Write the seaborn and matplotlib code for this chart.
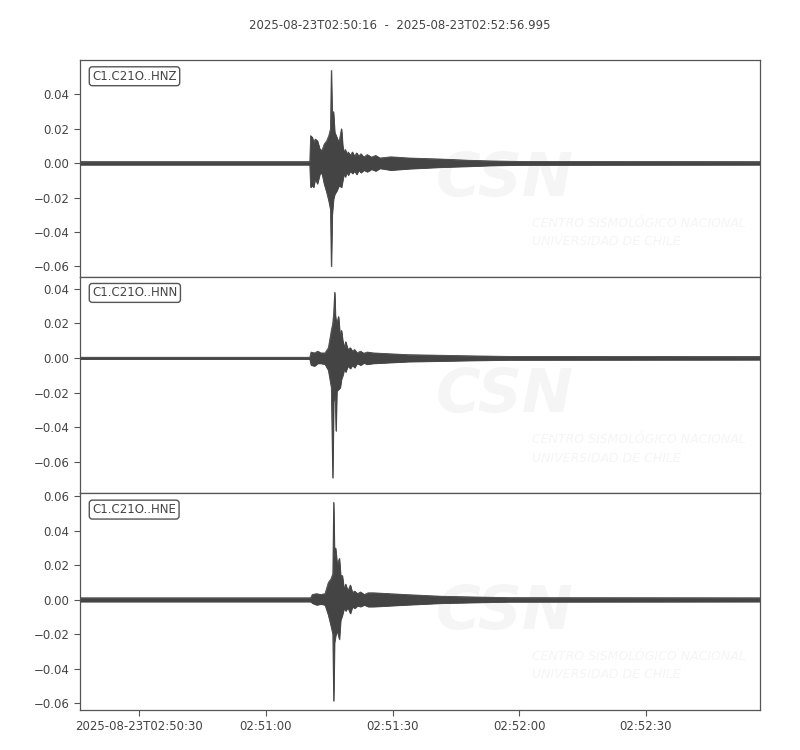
import numpy as np
import pandas as pd
import matplotlib
matplotlib.use("Agg")
import matplotlib.pyplot as plt
import matplotlib.dates as mdates
import seaborn as sns

# ============================================================
# DATA - envelope knots (seconds after start, m/s^2)
# ============================================================
START = pd.Timestamp("2025-08-23 02:50:16")
DURATION = 160.995
channels = ["C1.C21O..HNZ", "C1.C21O..HNN", "C1.C21O..HNE"]

hnz_t = [0, 54.4, 54.6, 55.0, 55.3, 55.7, 56.2, 56.8, 57.3, 57.8, 58.4, 58.9, 59.3,
         59.5, 59.7, 60.0, 60.3, 60.8, 61.3, 61.9, 62.2, 62.5, 62.8, 63.2, 63.5, 64.0,
         64.5, 65.0, 65.5, 66.0, 66.5, 67.2, 68.0, 69.0, 70.0, 71.0, 73.6, 78.0, 85.5,
         92.0, 97.4, 104.5, 161.0]
hnz_up = [0.0009, 0.0009, 0.016, 0.015, 0.012, 0.014, 0.013, 0.008, 0.0075, 0.011, 0.013,
          0.016, 0.020, 0.054, 0.025, 0.030, 0.018, 0.015, 0.012, 0.020, 0.010, 0.006,
          0.008, 0.005, 0.0065, 0.0045, 0.0065, 0.004, 0.006, 0.004, 0.0055, 0.0035,
          0.005, 0.0035, 0.0045, 0.003, 0.0037, 0.003, 0.0024, 0.0017, 0.0013, 0.001,
          0.0009]
hnz_lo = [-0.0009, -0.0009, -0.014, -0.013, -0.014, -0.009, -0.012, -0.006, -0.006,
          -0.012, -0.017, -0.022, -0.027, -0.060, -0.030, -0.021, -0.018, -0.016, -0.013,
          -0.014, -0.010, -0.006, -0.008, -0.005, -0.007, -0.0045, -0.006, -0.0045,
          -0.0065, -0.004, -0.0055, -0.004, -0.005, -0.0035, -0.0045, -0.003, -0.004,
          -0.0032, -0.0023, -0.0018, -0.0013, -0.001, -0.0009]

hnn_t = [0, 54.4, 54.7, 55.5, 56.3, 57.0, 58.0, 58.8, 59.5, 59.83, 60.05, 60.3, 60.45,
         60.6, 60.8, 61.2, 61.6, 61.9, 62.2, 62.6, 62.9, 63.4, 64.0, 64.5, 65.0, 65.6,
         66.4, 67.2, 68.0, 69.5, 77.6, 93.3, 101.4, 161.0]
hnn_up = [0.0005, 0.0005, 0.0035, 0.003, 0.004, 0.003, 0.003, 0.006, 0.016, 0.020, 0.026,
          0.038, 0.025, 0.022, 0.020, 0.024, 0.012, 0.016, 0.010, 0.006, 0.0095, 0.005,
          0.006, 0.004, 0.005, 0.003, 0.004, 0.0028, 0.0035, 0.003, 0.002, 0.0013, 0.001,
          0.0009]
hnn_lo = [-0.0005, -0.0005, -0.004, -0.0045, -0.003, -0.003, -0.0035, -0.007, -0.017,
          -0.069, -0.025, -0.022, -0.024, -0.042, -0.019, -0.018, -0.017, -0.012, -0.010,
          -0.006, -0.008, -0.0045, -0.006, -0.004, -0.0055, -0.003, -0.004, -0.0028,
          -0.0035, -0.003, -0.002, -0.0013, -0.001, -0.0009]

hne_t = [0, 54.6, 55.0, 56.0, 57.0, 58.0, 58.8, 59.4, 59.85, 60.05, 60.25, 60.5, 60.9,
         61.4, 61.7, 62.1, 62.5, 62.9, 63.4, 64.0, 64.5, 65.0, 65.7, 66.4, 67.3, 68.2,
         69.5, 77.0, 85.5, 95.0, 101.4, 161.0]
hne_up = [0.0011, 0.0011, 0.003, 0.0035, 0.003, 0.0035, 0.010, 0.012, 0.015, 0.0565,
          0.025, 0.030, 0.020, 0.024, 0.014, 0.014, 0.006, 0.009, 0.005, 0.0085, 0.004,
          0.005, 0.0035, 0.0045, 0.003, 0.004, 0.004, 0.003, 0.002, 0.0015, 0.0012,
          0.0011]
hne_lo = [-0.0011, -0.0011, -0.002, -0.003, -0.0025, -0.003, -0.009, -0.015, -0.020,
          -0.0587, -0.025, -0.021, -0.018, -0.023, -0.012, -0.009, -0.005, -0.0065,
          -0.0045, -0.008, -0.004, -0.005, -0.0035, -0.004, -0.003, -0.004, -0.004,
          -0.003, -0.002, -0.0015, -0.0012, -0.0011]

ylims = [(-0.066, 0.060), (-0.078, 0.047), (-0.064, 0.0617)]
yticks = [np.arange(-0.06, 0.041, 0.02), np.arange(-0.06, 0.041, 0.02),
          np.arange(-0.06, 0.061, 0.02)]

traces = [(hnz_t, hnz_up, hnz_lo), (hnn_t, hnn_up, hnn_lo), (hne_t, hne_up, hne_lo)]

# ============================================================
# PLOT
# ============================================================
sns.set_style("ticks")
plt.rcParams["font.family"] = ["DejaVu Sans"]
TRACE = "#444444"
TXT = "#444444"
WM = "#f5f5f5"  # watermark grey

fig, axes = plt.subplots(3, 1, figsize=(8, 7.5), dpi=100, sharex=True)
fig.subplots_adjust(left=0.1, right=0.95, top=0.92, bottom=0.0533, hspace=0)

t_end = START + pd.to_timedelta(DURATION, unit="s")

for ax, name, (t, up, lo), yl, yt in zip(axes, channels, traces, ylims, yticks):
    df = pd.DataFrame({"time": START + pd.to_timedelta(t, unit="s"), "up": up, "lo": lo})

    # faint CSN watermark
    ax.text(0.625, 0.45, "CSN", transform=ax.transAxes, fontsize=44, fontweight="bold",
            fontstyle="italic", color=WM, ha="center", va="center", zorder=0,
            clip_on=True)
    ax.text(0.665, 0.205, "CENTRO SISMOLÓGICO NACIONAL\nUNIVERSIDAD DE CHILE",
            transform=ax.transAxes, fontsize=9, fontstyle="italic", color=WM,
            ha="left", va="center", linespacing=1.55, zorder=0, clip_on=True)

    ax.fill_between(df["time"], df["lo"], df["up"], color=TRACE, lw=0.6, zorder=2)
    sns.lineplot(data=df, x="time", y="up", ax=ax, color=TRACE, lw=0.6, zorder=3)
    sns.lineplot(data=df, x="time", y="lo", ax=ax, color=TRACE, lw=0.6, zorder=3)

    ax.set_ylim(*yl)
    ax.set_yticks(yt)
    ax.set_yticklabels([f"{v:.2f}".replace("-", "\u2212") for v in yt])
    ax.set_xlim(START, t_end)
    ax.set_xlabel("")
    ax.set_ylabel("")
    for s in ax.spines.values():
        s.set_color("#555555")
        s.set_linewidth(0.9)
        s.set_visible(True)
    ax.tick_params(axis="both", labelsize=8.5, colors="#555555", labelcolor=TXT,
                   direction="out", length=4)
    ax.text(0.018, 0.955, name, transform=ax.transAxes, fontsize=8.5, color=TXT,
            ha="left", va="top", zorder=5,
            bbox=dict(boxstyle="round,pad=0.25", fc="white", ec="#555555", lw=1))

for ax in axes[:2]:
    ax.tick_params(axis="x", bottom=False, labelbottom=False)

axes[-1].xaxis.set_major_locator(mdates.SecondLocator(bysecond=[0, 30]))


def fmt(x, pos):
    d = mdates.num2date(x)
    if pos == 0:
        return d.strftime("%Y-%m-%dT%H:%M:%S")
    return d.strftime("%H:%M:%S")


axes[-1].xaxis.set_major_formatter(plt.FuncFormatter(fmt))

fig.suptitle("2025-08-23T02:50:16  -  2025-08-23T02:52:56.995", y=0.975,
             fontsize=8.5, color=TXT)

fig.savefig("out.png", dpi=100)
